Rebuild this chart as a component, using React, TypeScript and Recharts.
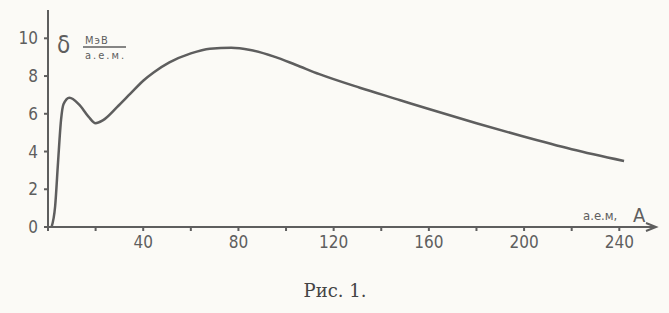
import { LineChart, Line, XAxis, YAxis, ReferenceDot } from "recharts";

// массовое число A, а.е.м.
const massNumbers = [1.5, 3, 4.2, 5.5, 6.5, 9, 13, 17, 20, 23, 29, 34.5, 40, 44.5, 51, 60, 68, 77, 85, 95, 104, 114, 131, 148, 160, 180, 199, 220, 242];
// удельная энергия связи δ, МэВ/а.е.м.
const bindingEnergy = [0, 1.1, 3.4, 5.7, 6.5, 6.85, 6.5, 5.85, 5.5, 5.65, 6.35, 7.05, 7.75, 8.2, 8.72, 9.2, 9.45, 9.5, 9.38, 9.03, 8.6, 8.1, 7.38, 6.72, 6.25, 5.5, 4.82, 4.12, 3.5];

const xTicks = [0, 20, 40, 60, 80, 100, 120, 140, 160, 180, 200, 220, 240];
const yTicks = [0, 2, 4, 6, 8, 10];

const data = massNumbers.map((a, i) => ({ a, e: bindingEnergy[i] }));

const ink = "#5e5e5e";
const font = "'Liberation Sans Narrow', 'DejaVu Sans Condensed', 'DejaVu Sans', sans-serif";

const Arrow = (p: any) => (
  <path
    d={`M${p.cx - 9},${p.cy - 4} L${p.cx + 1},${p.cy} L${p.cx - 9},${p.cy + 4}`}
    fill="none"
    stroke={ink}
    strokeWidth={2}
  />
);

export default function App() {
  return (
    <div style={{ position: "absolute", left: 0, top: 0, width: 669, height: 313, background: "#fbfaf6" }}>
      <LineChart width={669} height={313} data={data} margin={{ top: 10, right: 14, bottom: 0, left: 0 }}>
        <XAxis
          dataKey="a"
          type="number"
          domain={[0, 255]}
          ticks={xTicks}
          tickFormatter={(v: number) => (v > 0 && v % 40 === 0 ? String(v) : "")}
          height={86}
          stroke={ink}
          strokeWidth={2}
          tickSize={4}
          tickMargin={5}
          tick={{ fill: ink, fontSize: 17, fontFamily: font }}
        />
        <YAxis
          type="number"
          domain={[0, 11.5]}
          ticks={yTicks}
          width={48}
          stroke={ink}
          strokeWidth={2}
          tickSize={4}
          tickMargin={6}
          tick={{ fill: ink, fontSize: 17, fontFamily: font }}
        />
        <ReferenceDot x={255} y={0} r={0} ifOverflow="visible" shape={Arrow} />
        <Line
          type="monotone"
          dataKey="e"
          stroke={ink}
          strokeWidth={2.5}
          dot={false}
          isAnimationActive={false}
        />
      </LineChart>
      <svg width={669} height={313} style={{ position: "absolute", left: 0, top: 0, pointerEvents: "none" }}>
        <text x={57} y={53} fontSize={24} fill={ink} fontFamily={font}>δ</text>
        <text x={85} y={44} fontSize={11} fill={ink} fontFamily={font} letterSpacing={1}>МэВ</text>
        <line x1={83} y1={47} x2={126} y2={47} stroke={ink} strokeWidth={1.5} />
        <text x={85} y={59} fontSize={11} fill={ink} fontFamily={font} letterSpacing={2}>а.е.м.</text>
        <text x={583} y={220} fontSize={13} fill={ink} fontFamily={font}>а.е.м,</text>
        <text x={633} y={222} fontSize={20} fill={ink} fontFamily={font}>А</text>
        <text x={335} y={297} fontSize={18} fill="#444" fontFamily="'DejaVu Serif', 'Liberation Serif', serif" textAnchor="middle">Рис. 1.</text>
      </svg>
    </div>
  );
}
